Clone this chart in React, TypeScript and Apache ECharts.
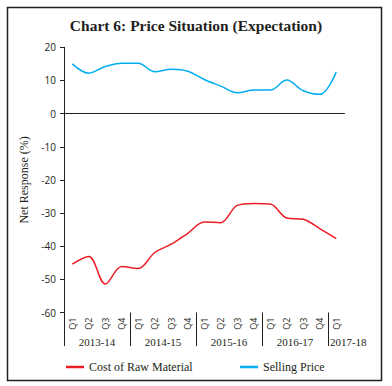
import React, { useEffect, useRef } from "react";
import * as echarts from "echarts";

const quarters = ["Q1","Q2","Q3","Q4","Q1","Q2","Q3","Q4","Q1","Q2","Q3","Q4","Q1","Q2","Q3","Q4","Q1"];
const years = ["2013-14","2014-15","2015-16","2016-17","2017-18"];
const yearCenters = [2, 6, 10, 14, 16.5];
const yearBounds = [0, 4, 8, 12, 16];
const rawMaterial = [-45.4,-43.1,-51.4,-46.1,-46.7,-41.9,-39.4,-36.1,-32.7,-32.9,-27.7,-27.1,-27.3,-31.5,-31.9,-34.7,-37.7];
const sellingPrice = [15.0,12.2,14.2,15.2,15.2,12.6,13.4,12.8,10.3,8.3,6.3,7.1,7.1,10.1,6.9,5.8,12.5];
const yTicks = { min: -60, max: 20, interval: 10 };

const TXT = "#231F20";
const SERIF = "'Liberation Serif', 'DejaVu Serif', serif";
const SANS = "'Open Sans', 'Liberation Sans', sans-serif";

export default function App() {
  const ref = useRef<HTMLDivElement>(null);
  useEffect(() => {
    if (!ref.current) return;
    const chart = echarts.init(ref.current, undefined, { renderer: "svg" });
    chart.setOption({
      animation: false,
      backgroundColor: "#fff",
      title: {
        text: "Chart 6: Price Situation (Expectation)",
        left: "center",
        top: 12,
        textStyle: { fontFamily: SERIF, fontWeight: "bold", fontSize: 15.5, color: TXT },
      },
      graphic: [
        {
          type: "rect",
          shape: { x: 7.5, y: 7.5, width: 374, height: 373 },
          style: { fill: "none", stroke: TXT, lineWidth: 1.5 },
          silent: true,
        },
      ],
      legend: [
        {
          data: ["Cost of Raw Material"],
          left: 61,
          top: 356,
          icon: "rect",
          itemWidth: 18,
          itemHeight: 2.5,
          itemGap: 4,
          textStyle: { fontFamily: SERIF, fontSize: 12, color: TXT },
        },
        {
          data: ["Selling Price"],
          left: 235,
          top: 356,
          icon: "rect",
          itemWidth: 18,
          itemHeight: 2.5,
          itemGap: 4,
          textStyle: { fontFamily: SERIF, fontSize: 12, color: TXT },
        },
      ],
      grid: { left: 64, right: 47.5, top: 47.3, bottom: 73.5, containLabel: false },
      xAxis: [
        {
          type: "category",
          data: quarters,
          boundaryGap: true,
          axisLine: { lineStyle: { color: TXT, width: 1 } },
          axisTick: { alignWithLabel: true, length: 3.5, lineStyle: { color: TXT } },
          axisLabel: { rotate: 90, interval: 0, margin: 5, fontFamily: SANS, fontSize: 9, color: TXT },
          splitLine: { show: false },
        },
        {
          type: "value",
          position: "bottom",
          min: 0,
          max: quarters.length,
          axisLine: { show: false },
          axisTick: { show: true, customValues: yearBounds, length: 33.5, lineStyle: { color: TXT, width: 1 } },
          axisLabel: {
            customValues: yearCenters,
            margin: 24,
            fontFamily: SERIF,
            fontSize: 11,
            color: TXT,
            formatter: (v: number) => {
              const i = yearCenters.findIndex((c) => Math.abs(c - v) < 1e-6);
              if (i < 0) return "";
              return i === years.length - 1 ? "{p|" + years[i] + "}" : years[i];
            },
            rich: { p: { padding: [0, 0, 0, 24], fontFamily: SERIF, fontSize: 11, color: TXT } },
          },
          splitLine: { show: false },
        },
      ],
      yAxis: {
        type: "value",
        min: yTicks.min,
        max: yTicks.max,
        interval: yTicks.interval,
        name: "Net Response (%)",
        nameLocation: "middle",
        nameGap: 25,
        nameTextStyle: { fontFamily: SERIF, fontSize: 12, color: TXT },
        axisLine: { show: true, lineStyle: { color: TXT, width: 1 } },
        axisTick: { show: true, length: 4, lineStyle: { color: TXT } },
        axisLabel: { margin: 8, fontFamily: SANS, fontSize: 10, color: TXT },
        splitLine: { show: false },
      },
      series: [
        {
          name: "Cost of Raw Material",
          type: "line",
          data: rawMaterial,
          smooth: 0.35,
          symbol: "none",
          lineStyle: { color: "#ED1C24", width: 1.5 },
          itemStyle: { color: "#ED1C24" },
        },
        {
          name: "Selling Price",
          type: "line",
          data: sellingPrice,
          smooth: 0.35,
          symbol: "none",
          lineStyle: { color: "#00AEEF", width: 1.5 },
          itemStyle: { color: "#00AEEF" },
        },
      ],
    });
    return () => chart.dispose();
  }, []);
  return (
    <div
      ref={ref}
      style={{ position: "fixed", left: 0, top: 0, width: 392, height: 386 }}
    />
  );
}
